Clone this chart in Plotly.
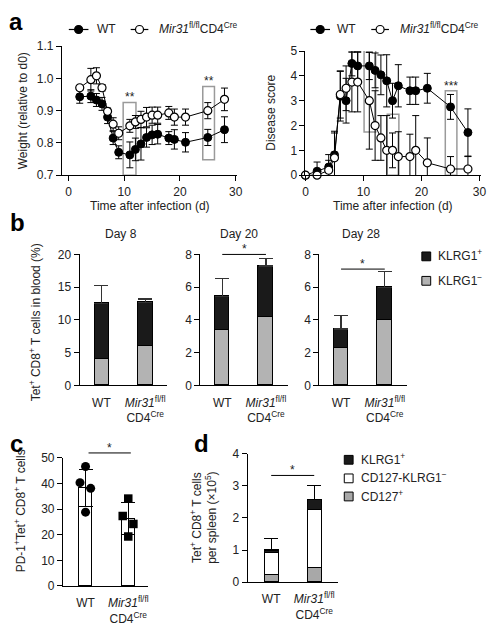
import plotly.graph_objects as go

W, H = 502, 635
FONT = "Liberation Sans, Arial, sans-serif"
TXT = "#222222"
BOXC = "#9a9a9a"
GRAY = "#b3b3b3"


def px(x):
    return x / W


def py(y):
    return 1 - y / H


# ---------------- DATA ----------------
# Panel a (left): weight relative to d0
w_days_wt = [2, 4, 5, 6, 7, 8, 9, 11, 12, 13, 14, 15, 16, 18, 19, 21, 25, 28]
w_wt = [0.943, 0.945, 0.933, 0.921, 0.880, 0.815, 0.771, 0.763, 0.780, 0.797,
        0.817, 0.825, 0.827, 0.815, 0.811, 0.802, 0.817, 0.841]
w_wt_err = [0.02, 0.02, 0.02, 0.02, 0.02, 0.02, 0.02, 0.04, 0.035, 0.05,
            0.03, 0.03, 0.03, 0.02, 0.03, 0.03, 0.025, 0.04]
w_days_ko = [2, 4, 5, 6, 7, 8, 9, 11, 12, 13, 14, 15, 16, 18, 19, 21, 25, 28]
w_ko = [0.971, 0.996, 1.008, 0.971, 0.898, 0.858, 0.830, 0.853, 0.865, 0.873,
        0.880, 0.886, 0.886, 0.893, 0.880, 0.880, 0.900, 0.935]
w_ko_err = [0.005, 0.035, 0.025, 0.01, 0.01, 0.02, 0.02, 0.02, 0.02, 0.025,
            0.03, 0.025, 0.025, 0.02, 0.025, 0.025, 0.025, 0.035]

# Panel a (right): disease score
d_days = [0, 2, 4, 5, 6, 7, 8, 9, 11, 12, 13, 14, 15, 16, 18, 19, 21, 25, 28]
d_wt = [0, 0.16, 0.33, 0.82, 3.18, 3.0, 4.5, 4.4, 4.4, 4.22, 4.04, 3.8, 3.0,
        3.6, 3.4, 3.4, 3.5, 2.75, 1.72]
d_wt_err = [0, 0.37, 0.5, 0.95, 1.0, 0.9, 0.5, 0.57, 0.55, 0.7, 0.8, 1.05,
            0.7, 0.85, 0.55, 0.55, 0.6, 0.5, 0.95]
d_ko = [0, 0, 0.2, 0.7, 3.25, 3.5, 3.75, 3.75, 3.0, 2.0, 1.5, 1.0, 1.0, 0.75,
        0.75, 1.0, 0.5, 0.25, 0.25]
d_ko_err = [0, 0, 0.4, 1.0, 0.95, 0.9, 1.2, 1.2, 1.95, 1.4, 0.9, 1.4, 0.7,
            1.0, 0.9, 1.4, 1.0, 0.5, 0.5]

# Panel b: Tet+ CD8+ T cells in blood (%)
groups = [0, 1]
group_labels = ["WT", "<i>Mir31</i><sup>fl/fl</sup><br>CD4<sup>Cre</sup>"]
b_titles = ["Day 8", "Day 20", "Day 28"]
b_klrg_neg = [[4.0, 5.9], [3.35, 4.13], [2.25, 4.0]]
b_klrg_pos = [[8.5, 6.8], [2.07, 3.16], [1.2, 1.97]]
b_err = [[2.8, 0.5], [1.13, 0.46], [0.8, 0.97]]
b_ymax = [20, 8, 8]
b_dtick = [5, 2, 2]

# Panel c: PD-1+Tet+ CD8+ T cells
c_mean = [38.3, 26.2]
c_sd = [7.3, 6.3]
c_wt_pts = [46.6, 40.3, 38.1, 28.8]
c_ko_pts = [34.1, 27.3, 24.2, 19.3]
c_jitter = [0.0, -0.13, 0.12, 0.0]

# Panel d: Tet+ CD8+ T cells per spleen (x10^5)
d_cd127 = [0.22, 0.45]
d_dn = [0.68, 1.79]
d_klrg = [0.09, 0.33]
d_err = [0.37, 0.45]

fig = go.Figure()

axis_common = dict(showline=True, linecolor="black", linewidth=1, ticks="outside",
                   ticklen=5, tickwidth=1, tickcolor="black", showgrid=False,
                   zeroline=False, tickfont=dict(size=12, color=TXT, family=FONT))

# ---------- panel a left ----------
line_style = dict(color="black", width=1)
fig.add_trace(go.Scatter(x=w_days_wt, y=w_wt, mode="lines+markers", line=line_style,
                         marker=dict(size=8, color="black", line=dict(color="black", width=1)),
                         error_y=dict(type="data", array=w_wt_err, color="black", thickness=1, width=3.5),
                         xaxis="x", yaxis="y", cliponaxis=False, showlegend=False))
fig.add_trace(go.Scatter(x=w_days_ko, y=w_ko, mode="lines+markers", line=line_style,
                         marker=dict(size=8, color="white", line=dict(color="black", width=1.2)),
                         error_y=dict(type="data", array=w_ko_err, color="black", thickness=1, width=3.5),
                         xaxis="x", yaxis="y", cliponaxis=False, showlegend=False))

# ---------- panel a right ----------
fig.add_trace(go.Scatter(x=d_days, y=d_wt, mode="lines+markers", line=line_style,
                         marker=dict(size=8, color="black", line=dict(color="black", width=1)),
                         error_y=dict(type="data", array=d_wt_err, color="black", thickness=1, width=3.5),
                         xaxis="x2", yaxis="y2", cliponaxis=False, showlegend=False))
fig.add_trace(go.Scatter(x=d_days, y=d_ko, mode="lines+markers", line=line_style,
                         marker=dict(size=8, color="white", line=dict(color="black", width=1.2)),
                         error_y=dict(type="data", array=d_ko_err, color="black", thickness=1, width=3.5),
                         xaxis="x2", yaxis="y2", cliponaxis=False, showlegend=False))

# ---------- panel b ----------
for i in range(3):
    xa, ya = "x%d" % (3 + i), "y%d" % (3 + i)
    fig.add_trace(go.Bar(x=groups, y=b_klrg_neg[i], width=0.33, marker=dict(color=GRAY, line=dict(color="black", width=1)),
                         xaxis=xa, yaxis=ya, showlegend=False))
    fig.add_trace(go.Bar(x=groups, y=b_klrg_pos[i], width=0.33, marker=dict(color="#1a1a1a", line=dict(color="black", width=1)),
                         error_y=dict(type="data", symmetric=False, array=b_err[i], arrayminus=[0, 0],
                                      color="#333333", thickness=1.2, width=7),
                         xaxis=xa, yaxis=ya, showlegend=False))

# ---------- panel c ----------
fig.add_trace(go.Bar(x=groups, y=c_mean, width=0.32, marker=dict(color="white", line=dict(color="black", width=1)),
                     error_y=dict(type="data", array=c_sd, color="black", thickness=1, width=7),
                     xaxis="x6", yaxis="y6", showlegend=False))
fig.add_trace(go.Scatter(x=[groups[0] + j for j in c_jitter], y=c_wt_pts, mode="markers",
                         marker=dict(symbol="circle", size=9, color="black"),
                         xaxis="x6", yaxis="y6", showlegend=False, cliponaxis=False))
fig.add_trace(go.Scatter(x=[groups[1] + j for j in c_jitter], y=c_ko_pts, mode="markers",
                         marker=dict(symbol="square", size=8.5, color="black"),
                         xaxis="x6", yaxis="y6", showlegend=False, cliponaxis=False))

# ---------- panel d ----------
fig.add_trace(go.Bar(x=groups, y=d_cd127, width=0.32, marker=dict(color="#a8a8a8", line=dict(color="black", width=1)),
                     xaxis="x7", yaxis="y7", showlegend=False))
fig.add_trace(go.Bar(x=groups, y=d_dn, width=0.32, marker=dict(color="white", line=dict(color="black", width=1)),
                     xaxis="x7", yaxis="y7", showlegend=False))
fig.add_trace(go.Bar(x=groups, y=d_klrg, width=0.32, marker=dict(color="#1a1a1a", line=dict(color="black", width=1)),
                     error_y=dict(type="data", symmetric=False, array=d_err, arrayminus=[0, 0],
                                  color="black", thickness=1, width=7),
                     xaxis="x7", yaxis="y7", showlegend=False))

# ---------- layout axes ----------
layout = dict(
    width=W, height=H, autosize=False,
    margin=dict(l=0, r=0, t=0, b=0),
    paper_bgcolor="white", plot_bgcolor="rgba(0,0,0,0)",
    barmode="stack", bargap=0,
    font=dict(family=FONT, size=12, color=TXT),
)

layout["xaxis"] = dict(axis_common, domain=[px(60), px(238)], range=[-1.2, 30.2],
                       tickvals=[0, 10, 20, 30], anchor="y")
layout["yaxis"] = dict(axis_common, domain=[py(172), py(40)], range=[0.7, 1.1],
                       tickvals=[0.7, 0.8, 0.9, 1.0, 1.1], ticktext=["0.7", "0.8", "0.9", "1.0", "1.1"], anchor="x")
layout["xaxis2"] = dict(axis_common, domain=[px(308), px(487)], range=[0, 30.3],
                        tickvals=[0, 10, 20, 30], anchor="y2")
layout["yaxis2"] = dict(axis_common, domain=[py(172), py(45)], range=[0, 5],
                        tickvals=[0, 1, 2, 3, 4, 5], anchor="x2")

cat_axis = dict(axis_common, tickvals=groups, ticktext=group_labels, ticks="", ticklabelstandoff=6)

b_x = [(78, 167), (201, 290), (322, 411)]
for i in range(3):
    layout["xaxis%d" % (3 + i)] = dict(cat_axis, domain=[px(b_x[i][0]), px(b_x[i][1])], range=[-0.5, 1.5],
                                       anchor="y%d" % (3 + i))
    layout["yaxis%d" % (3 + i)] = dict(axis_common, domain=[py(387), py(253)], range=[0, b_ymax[i]],
                                       dtick=b_dtick[i], anchor="x%d" % (3 + i))

layout["xaxis6"] = dict(cat_axis, domain=[px(61), px(148)], range=[-0.53, 1.47], anchor="y6")
layout["yaxis6"] = dict(axis_common, domain=[py(592), py(461)], range=[0, 50], dtick=10, anchor="x6")
layout["xaxis7"] = dict(cat_axis, domain=[px(249), px(341)], range=[-0.55, 1.55], anchor="y7")
layout["yaxis7"] = dict(axis_common, domain=[py(588), py(457)], range=[0, 4], dtick=1, anchor="x7")

fig.update_layout(**layout)

shapes = []
ann = []

# significance boxes (panel a)
box = dict(type="rect", line=dict(color=BOXC, width=1.5), fillcolor="rgba(0,0,0,0)", layer="below")
shapes.append(dict(box, xref="x", yref="y", x0=9.8, x1=12.1, y0=0.7, y1=0.925))
shapes.append(dict(box, xref="x", yref="y", x0=24.1, x1=26.2, y0=0.748, y1=0.975))
shapes.append(dict(box, xref="x2", yref="y2", x0=10.1, x1=12.1, y0=1.74, y1=5.13))
shapes.append(dict(box, xref="x2", yref="y2", x0=14.1, x1=16.1, y0=0, y1=2.45))
shapes.append(dict(box, xref="x2", yref="y2", x0=24.1, x1=26.1, y0=0, y1=3.4))

star = dict(showarrow=False, font=dict(size=12, color=TXT), xanchor="center", yanchor="bottom", yshift=-4)
ann.append(dict(star, text="**", xref="x", yref="y", x=10.95, y=0.927))
ann.append(dict(star, text="**", xref="x", yref="y", x=25.15, y=0.977))
ann.append(dict(star, text="*", xref="x2", yref="y2", x=11.1, y=5.13))
ann.append(dict(star, text="***", xref="x2", yref="y2", x=25.1, y=3.4))

# legends panel a
def circ(cx, cy, filled):
    return dict(type="circle", xref="paper", yref="paper", xsizemode="pixel", ysizemode="pixel",
                xanchor=px(cx), yanchor=py(cy), x0=-4, x1=4, y0=-4, y1=4,
                fillcolor="black" if filled else "white", line=dict(color="black", width=1.2))


def hline(x0, x1, y):
    return dict(type="line", xref="paper", yref="paper", x0=px(x0), x1=px(x1), y0=py(y), y1=py(y),
                line=dict(color="black", width=1.2))


legtxt = dict(showarrow=False, xref="paper", yref="paper", xanchor="left", yanchor="middle",
              font=dict(size=12, color=TXT))
ko_label = "<i>Mir31</i><sup>fl/fl</sup>CD4<sup>Cre</sup>"
for (lx, kx, tx1, tx2) in [(67, 130, 94, 157), (313, 375, 338, 402)]:
    shapes.append(hline(lx, lx + 20, 23))
    shapes.append(circ(lx + 10, 23, True))
    shapes.append(hline(kx, kx + 18, 23))
    shapes.append(circ(kx + 9, 23, False))
    ann.append(dict(legtxt, x=px(tx1), y=py(23), text="WT"))
    ann.append(dict(legtxt, x=px(tx2), y=py(21), text=ko_label))

# axis titles panel a
ytitle = dict(showarrow=False, xref="paper", yref="paper", textangle=-90, xanchor="center",
              yanchor="middle", font=dict(size=12, color=TXT))
ann.append(dict(ytitle, x=px(20), y=py(106), text="Weight (relative to d0)"))
ann.append(dict(ytitle, x=px(272), y=py(108), text="Disease score"))
xtitle = dict(showarrow=False, xref="paper", yref="paper", xanchor="center", yanchor="middle",
              font=dict(size=12, color=TXT))
ann.append(dict(xtitle, x=px(150), y=py(203), text="Time after infection (d)"))
ann.append(dict(xtitle, x=px(397), y=py(203), text="Time after infection (d)"))

# panel b titles, y label, sig lines, legend
for t, cx in zip(b_titles, [120, 240, 365]):
    ann.append(dict(xtitle, x=px(cx), y=py(232), text=t))
ann.append(dict(ytitle, x=px(32), y=py(322), text="Tet<sup>+</sup> CD8<sup>+</sup> T cells in blood (%)"))

sig = dict(type="line", yref="paper", line=dict(color="black", width=1))
shapes.append(dict(sig, xref="x4", x0=0, x1=1, y0=py(253), y1=py(253)))
ann.append(dict(star, text="*", xref="x4", yref="paper", x=0.5, y=py(253)))
shapes.append(dict(sig, xref="x5", x0=0, x1=1, y0=py(268), y1=py(268)))
ann.append(dict(star, text="*", xref="x5", yref="paper", x=0.5, y=py(268)))


def sq(cx, cy, color):
    return dict(type="rect", xref="paper", yref="paper", x0=px(cx - 4.5), x1=px(cx + 4.5),
                y0=py(cy + 4.5), y1=py(cy - 4.5), fillcolor=color, line=dict(color="black", width=1))


shapes.append(sq(431, 255, "#1a1a1a"))
shapes.append(sq(431, 280, GRAY))
ann.append(dict(legtxt, x=px(441), y=py(254), text="KLRG1<sup>+</sup>"))
ann.append(dict(legtxt, x=px(441), y=py(279), text="KLRG1<sup>−</sup>"))

# panel c
ann.append(dict(ytitle, x=px(17), y=py(515), text="PD-1<sup>+</sup>Tet<sup>+</sup> CD8<sup>+</sup> T cells"))
shapes.append(dict(sig, xref="x6", x0=0.07, x1=1.06, y0=py(456), y1=py(456)))
ann.append(dict(star, text="*", xref="x6", yref="paper", x=0.55, y=py(456)))

# panel d
ann.append(dict(ytitle, x=px(205), y=py(522),
                text="Tet<sup>+</sup> CD8<sup>+</sup> T cells<br>per spleen (×10<sup>5</sup>)"))
shapes.append(dict(sig, xref="x7", x0=0, x1=1, y0=py(479), y1=py(479)))
ann.append(dict(star, text="*", xref="x7", yref="paper", x=0.5, y=py(479)))
shapes.append(sq(352, 463, "#1a1a1a"))
shapes.append(sq(352, 482, "white"))
shapes.append(sq(352, 500.5, "#a8a8a8"))
ann.append(dict(legtxt, x=px(363), y=py(462), text="KLRG1<sup>+</sup>"))
ann.append(dict(legtxt, x=px(363), y=py(481), text="CD127-KLRG1<sup>−</sup>"))
ann.append(dict(legtxt, x=px(363), y=py(500), text="CD127<sup>+</sup>"))

# panel letters
plabel = dict(showarrow=False, xref="paper", yref="paper", xanchor="center", yanchor="middle",
              font=dict(size=24, color="black", family=FONT))
ann.append(dict(plabel, x=px(13), y=py(15), text="<b>a</b>"))
ann.append(dict(plabel, x=px(15), y=py(220), text="<b>b</b>"))
ann.append(dict(plabel, x=px(14), y=py(446), text="<b>c</b>"))
ann.append(dict(plabel, x=px(202), y=py(446), text="<b>d</b>"))

fig.update_layout(shapes=shapes, annotations=ann)
fig.write_html("out.html", config={"displayModeBar": False},
               post_script="document.body.style.margin='0';document.body.style.overflow='hidden';")
